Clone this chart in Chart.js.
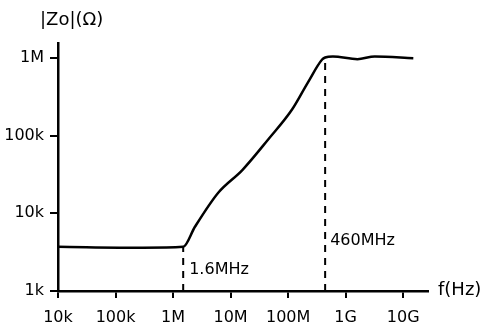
<!DOCTYPE html>
<html>
<head>
<meta charset="utf-8">
<script src="https://cdn.jsdelivr.net/npm/chart.js@4/dist/chart.umd.min.js"></script>
<style>
  body { margin: 0; background: #fff; }
  #wrap { width: 500px; height: 331px; }
</style>
</head>
<body>
<div id="wrap"><canvas id="bode" width="500" height="331"></canvas></div>
<script>
// frequency (Hz) and |Zo| (ohm)
const freqs = [1e4, 3e5, 1.5e6, 2.4e6, 6.1e6, 1.6e7, 4.5e7, 1.17e8, 2.2e8, 3.9e8, 4.4e8, 6e8, 1.6e9, 3.2e9, 1.5e10];
const zoValues = [3.7e3, 3.6e3, 3.7e3, 6.7e3, 1.84e4, 3.6e4, 8.9e4, 2.16e5, 4.8e5, 9.5e5, 1.01e6, 1.04e6, 9.6e5, 1.04e6, 9.9e5];

const cornerFreqs = [1.5e6, 4.4e8];
const cornerLows = [3.7e3, 1.01e6];
const cornerLabels = ['1.6MHz', '460MHz'];

const xTicks = [1e4, 1e5, 1e6, 1e7, 1e8, 1e9, 1e10];
const xTickLabels = ['10k', '100k', '1M', '10M', '100M', '1G', '10G'];
const yTicks = [1e3, 1e4, 1e5, 1e6];
const yTickLabels = ['1k', '10k', '100k', '1M'];

const FONT = '"DejaVu Sans", sans-serif';

const curve = freqs.map((f, i) => ({ x: f, y: zoValues[i] }));
const dashed = cornerFreqs.map((f, i) => ({
  data: [{ x: f, y: 1e3 }, { x: f, y: cornerLows[i] }],
  borderColor: '#000',
  borderWidth: 2,
  borderDash: [7, 6],
  pointRadius: 0,
  showLine: true,
}));

const textPlugin = {
  id: 'sketchText',
  afterDraw(chart) {
    const ctx = chart.ctx;
    const xs = chart.scales.x;
    const ys = chart.scales.y;
    ctx.save();
    ctx.fillStyle = '#000';
    ctx.textBaseline = 'middle';
    ctx.textAlign = 'left';
    ctx.font = '18px ' + FONT;
    ctx.fillText('|Zo|(\u03A9)', 40, 20);
    ctx.fillText('f(Hz)', 438, 290);
    ctx.font = '16px ' + FONT;
    ctx.fillText(cornerLabels[0], xs.getPixelForValue(cornerFreqs[0]) + 6, ys.getPixelForValue(1e3) - 21);
    ctx.fillText(cornerLabels[1], xs.getPixelForValue(cornerFreqs[1]) + 5, ys.getPixelForValue(1e3) - 50);
    ctx.restore();
  },
};

new Chart(document.getElementById('bode').getContext('2d'), {
  type: 'scatter',
  data: {
    datasets: [
      {
        data: curve,
        borderColor: '#000',
        borderWidth: 2.5,
        pointRadius: 0,
        showLine: true,
        cubicInterpolationMode: 'monotone',
      },
      ...dashed,
    ],
  },
  options: {
    responsive: false,
    animation: false,
    layout: { padding: { top: 43, right: 72, left: 0, bottom: 0 } },
    plugins: {
      legend: { display: false },
      tooltip: { enabled: false },
    },
    scales: {
      x: {
        type: 'logarithmic',
        min: 1e4,
        max: 2.7e10,
        afterBuildTicks: (s) => { s.ticks = xTicks.map((v) => ({ value: v })); },
        afterFit: (s) => { s.height = 40; },
        ticks: {
          color: '#000',
          font: { family: FONT, size: 16 },
          padding: 10,
          maxRotation: 0,
          callback: (v) => xTickLabels[xTicks.indexOf(v)] ?? '',
        },
        grid: { drawOnChartArea: false, color: '#000', tickLength: 7, lineWidth: 2 },
        border: { color: '#000', width: 2.5 },
      },
      y: {
        type: 'logarithmic',
        min: 1e3,
        max: 1.55e6,
        afterBuildTicks: (s) => { s.ticks = yTicks.map((v) => ({ value: v })); },
        afterFit: (s) => { s.width = 58; },
        ticks: {
          color: '#000',
          font: { family: FONT, size: 16 },
          padding: 6,
          callback: (v) => yTickLabels[yTicks.indexOf(v)] ?? '',
        },
        grid: { drawOnChartArea: false, color: '#000', tickLength: 8, lineWidth: 2 },
        border: { color: '#000', width: 2.5 },
      },
    },
  },
  plugins: [textPlugin],
});
</script>
</body>
</html>
